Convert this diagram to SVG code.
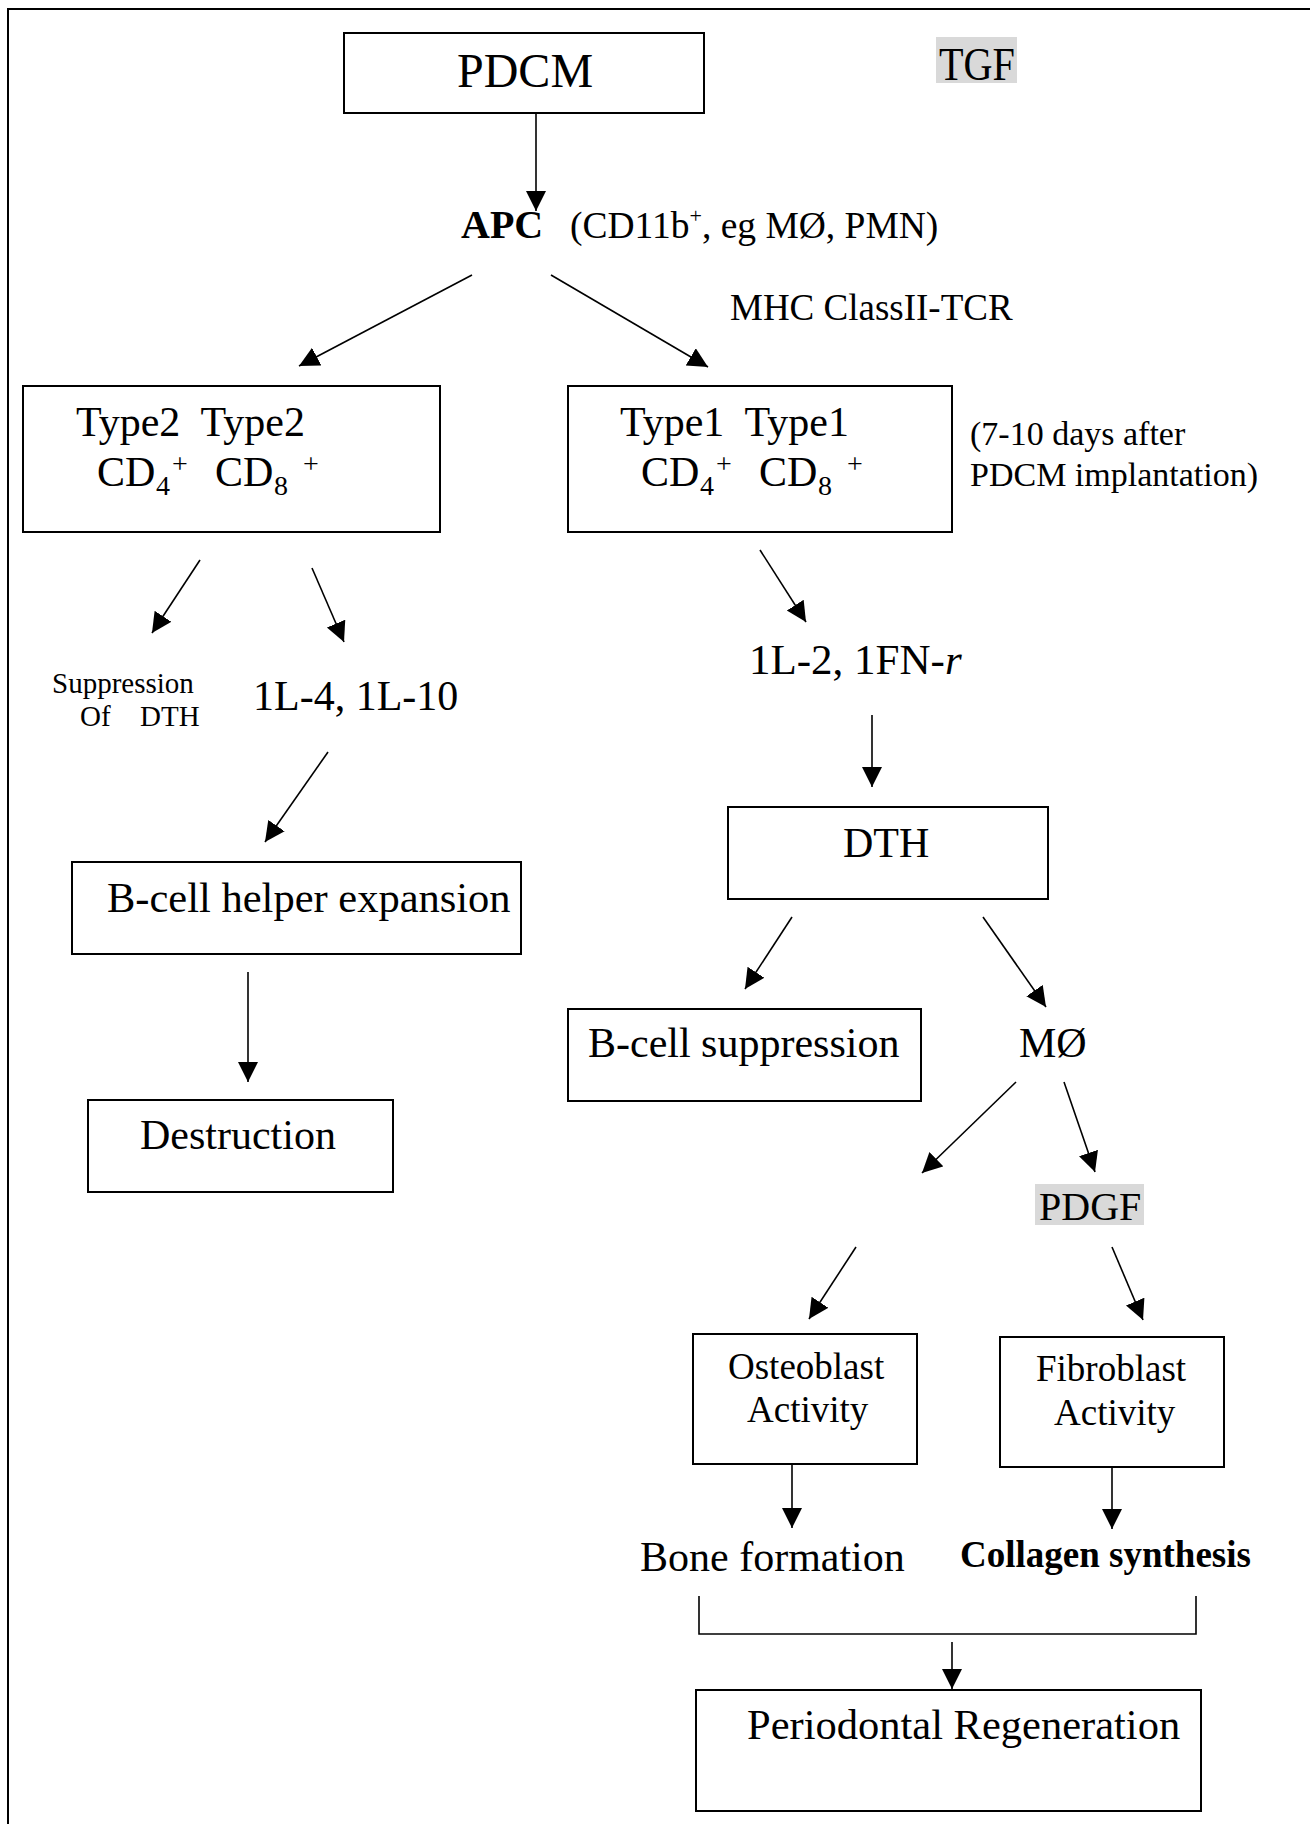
<svg xmlns="http://www.w3.org/2000/svg" width="1310" height="1824" viewBox="0 0 1310 1824">
<style>
text{font-family:"Liberation Serif","Times New Roman",serif;fill:#000}
.box{fill:#fff;stroke:#000;stroke-width:2}
.c{stroke:#000;stroke-width:1.6;fill:none}
.a{marker-end:url(#ah)}
.f42{font-size:42px}
.f37{font-size:37px}
.hl{fill:#d9d9d9}
</style>
<defs>
<marker id="ah" markerUnits="userSpaceOnUse" markerWidth="22" markerHeight="22" refX="20" refY="10" orient="auto">
<path d="M0,0 L20,10 L0,20 z" fill="#000"/>
</marker>
</defs>
<rect width="1310" height="1824" fill="#fff"/>
<g id="frame">
<path d="M8,1824 V9 H1310" fill="none" stroke="#000" stroke-width="2"/>
</g>
<g id="connectors">
<line class="c a" x1="536" y1="105" x2="536" y2="211"/>
<line class="c a" x1="472" y1="275" x2="299" y2="366"/>
<line class="c a" x1="551" y1="275" x2="708" y2="367"/>
<line class="c a" x1="200" y1="560" x2="152" y2="633"/>
<line class="c a" x1="312" y1="568" x2="344" y2="642"/>
<line class="c a" x1="760" y1="550" x2="806" y2="622"/>
<line class="c a" x1="328" y1="752" x2="265" y2="842"/>
<line class="c a" x1="872" y1="715" x2="872" y2="787"/>
<line class="c a" x1="248" y1="972" x2="248" y2="1082"/>
<line class="c a" x1="792" y1="917" x2="745" y2="989"/>
<line class="c a" x1="983" y1="917" x2="1046" y2="1007"/>
<line class="c a" x1="1016" y1="1082" x2="922" y2="1173"/>
<line class="c a" x1="1064" y1="1082" x2="1095" y2="1172"/>
<line class="c a" x1="856" y1="1247" x2="809" y2="1319"/>
<line class="c a" x1="1112" y1="1247" x2="1143" y2="1320"/>
<line class="c a" x1="792" y1="1464" x2="792" y2="1528"/>
<line class="c a" x1="1112" y1="1467" x2="1112" y2="1529"/>
<path class="c" d="M699,1596 V1634 H1196 V1596"/>
<line class="c a" x1="952" y1="1642" x2="952" y2="1689"/>
</g>
<g id="pdcm">
<rect class="box" x="344" y="33" width="360" height="80"/>
<text x="457" y="87" style="font-size:48px">PDCM</text>
</g>
<g id="tgf">
<rect class="hl" x="936" y="37" width="81" height="46"/>
<text x="939" y="80" style="font-size:46px" textLength="76" lengthAdjust="spacingAndGlyphs">TGF</text>
</g>
<g id="apc">
<text x="461" y="238" style="font-size:40px;font-weight:bold">APC</text>
<text x="570" y="238" style="font-size:37.5px">(CD11b<tspan style="font-size:22px" dy="-15">+</tspan><tspan dy="15">, eg MØ, PMN)</tspan></text>
</g>
<g id="mhc">
<text x="730" y="320" class="f37">MHC ClassII-TCR</text>
</g>
<g id="type2">
<rect class="box" x="23" y="386" width="417" height="146"/>
<text x="76" y="436" class="f42" xml:space="preserve">Type2  Type2</text>
<text x="97" y="486" class="f42">CD</text>
<text x="156" y="495" style="font-size:28px">4</text>
<text x="172" y="473" style="font-size:28px">+</text>
<text x="215" y="486" class="f42">CD</text>
<text x="274" y="495" style="font-size:28px">8</text>
<text x="303" y="473" style="font-size:28px">+</text>
</g>
<g id="type1">
<rect class="box" x="568" y="386" width="384" height="146"/>
<text x="620" y="436" class="f42" xml:space="preserve">Type1  Type1</text>
<text x="641" y="486" class="f42">CD</text>
<text x="700" y="495" style="font-size:28px">4</text>
<text x="716" y="473" style="font-size:28px">+</text>
<text x="759" y="486" class="f42">CD</text>
<text x="818" y="495" style="font-size:28px">8</text>
<text x="847" y="473" style="font-size:28px">+</text>
</g>
<g id="days">
<text x="970" y="445" style="font-size:34px">(7-10 days after</text>
<text x="970" y="486" style="font-size:34px">PDCM implantation)</text>
</g>
<g id="suppression-dth">
<text x="52" y="693" style="font-size:29px">Suppression</text>
<text y="726" style="font-size:29px"><tspan x="80">Of</tspan><tspan x="140">DTH</tspan></text>
</g>
<g id="il4">
<text x="253" y="710" class="f42">1L-4, 1L-10</text>
</g>
<g id="il2">
<text x="749" y="674" style="font-size:43px">1L-2, 1FN-<tspan font-style="italic">r</tspan></text>
</g>
<g id="bhelper">
<rect class="box" x="72" y="862" width="449" height="92"/>
<text x="107" y="912" style="font-size:42.5px">B-cell helper expansion</text>
</g>
<g id="destruction">
<rect class="box" x="88" y="1100" width="305" height="92"/>
<text x="140" y="1149" class="f42">Destruction</text>
</g>
<g id="dth">
<rect class="box" x="728" y="807" width="320" height="92"/>
<text x="843" y="857" class="f42">DTH</text>
</g>
<g id="bsupp">
<rect class="box" x="568" y="1009" width="353" height="92"/>
<text x="588" y="1057" class="f42">B-cell suppression</text>
</g>
<g id="mo">
<text x="1019" y="1057" class="f42">MØ</text>
</g>
<g id="pdgf">
<rect class="hl" x="1035" y="1184" width="109" height="41"/>
<text x="1039" y="1220" style="font-size:40px">PDGF</text>
</g>
<g id="osteoblast">
<rect class="box" x="693" y="1334" width="224" height="130"/>
<text x="728" y="1379" class="f37">Osteoblast</text>
<text x="747" y="1422" class="f37">Activity</text>
</g>
<g id="fibroblast">
<rect class="box" x="1000" y="1337" width="224" height="130"/>
<text x="1036" y="1381" class="f37">Fibroblast</text>
<text x="1054" y="1425" class="f37">Activity</text>
</g>
<g id="bone">
<text x="640" y="1571" class="f42">Bone formation</text>
</g>
<g id="collagen">
<text x="960" y="1567" class="f37" font-weight="bold">Collagen synthesis</text>
</g>
<g id="periodontal">
<rect class="box" x="696" y="1690" width="505" height="121"/>
<text x="747" y="1739" style="font-size:42.5px">Periodontal Regeneration</text>
</g>
</svg>
